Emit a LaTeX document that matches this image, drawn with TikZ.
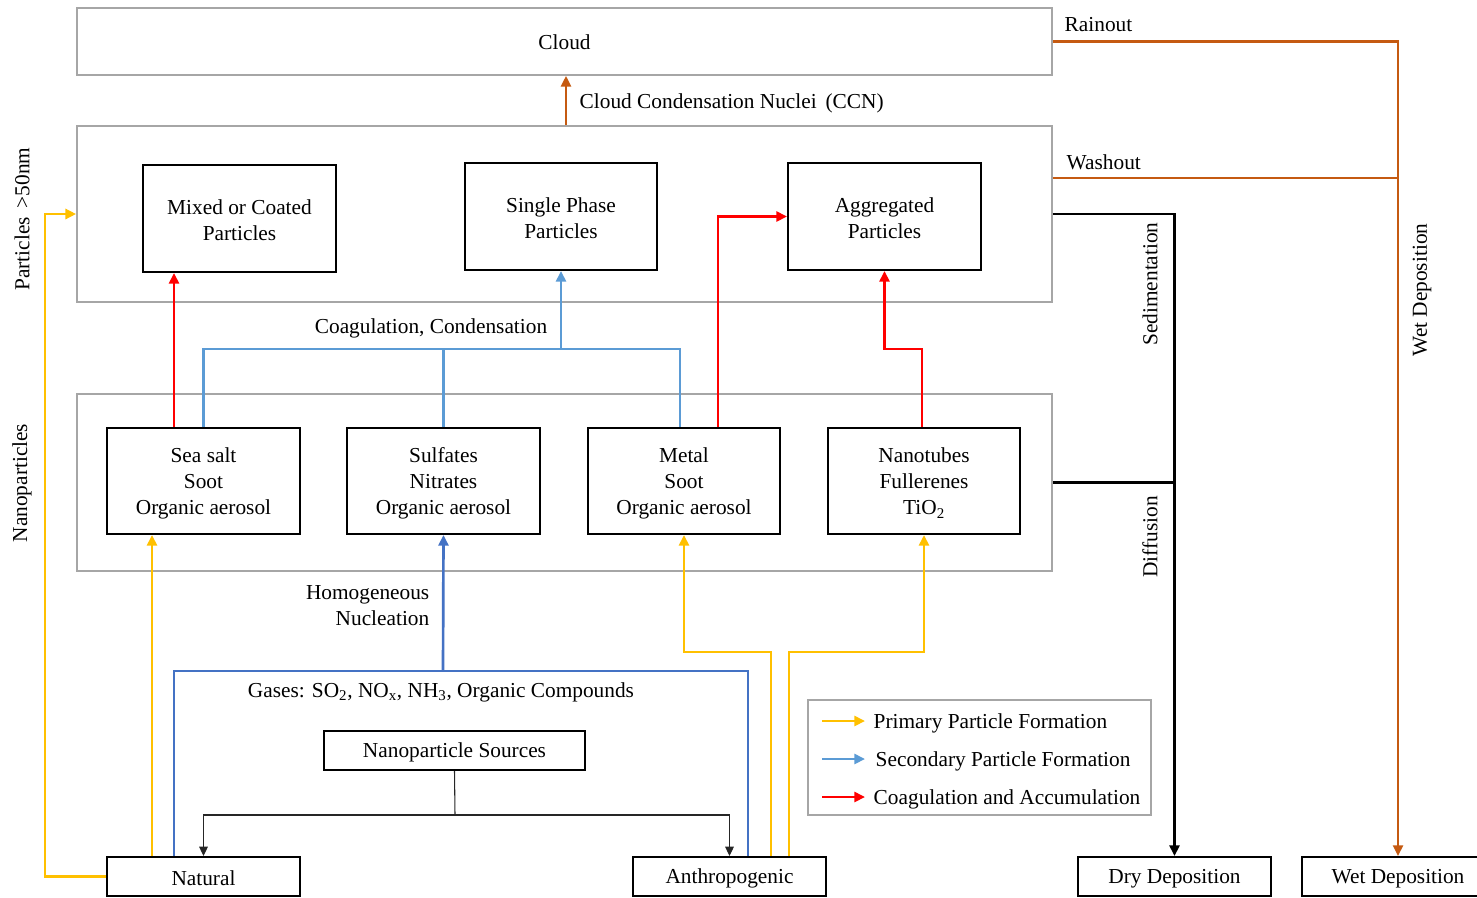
\documentclass[tikz,border=0pt]{standalone}
\usepackage{fontspec}
\setmainfont{Liberation Serif}
\usetikzlibrary{arrows.meta,calc}
\definecolor{gborder}{HTML}{A6A6A6}
\definecolor{cbrown}{HTML}{C55A11}
\definecolor{cyellow}{HTML}{FFC000}
\definecolor{clblue}{HTML}{5B9BD5}
\definecolor{cdblue}{HTML}{4472C4}
\definecolor{cred}{HTML}{FF0000}
\newcommand\fstrut{\rule{0pt}{14pt}}
\begin{document}
\begin{tikzpicture}[x=0.75pt,y=-0.75pt,
  font=\fontsize{16}{19.5}\selectfont,
  blackbox/.style={draw=black,line width=1.5pt,inner sep=0pt,align=center},
  onebox/.style={blackbox,text height=13.5pt},
  graybox/.style={draw=gborder,line width=1.3pt,inner sep=0pt,text height=12.5pt},
  tip/.style={-{Triangle[length=8pt,width=7.5pt]}},
  smalltip/.style={-{Triangle[length=7pt,width=6.5pt]}},
  yel/.style={draw=cyellow,line width=2pt},
  lbl/.style={draw=clblue,line width=2pt},
  dbl/.style={draw=cdblue,line width=2pt},
  rd/.style={draw=cred,line width=2pt},
  brn/.style={draw=cbrown,line width=1.7pt},
  blk/.style={draw=black,line width=2.1pt},
  thin/.style={draw=black!85,line width=0.8pt},
  rot/.style={rotate=90}]
\useasboundingbox (0,0) rectangle (1477,897);
% group boxes
\node[graybox,minimum width=731.25pt,minimum height=50.25pt] (cloud) at (564.5,41.5) {Cloud};
\node[graybox,minimum width=731.25pt,minimum height=132pt] (upper) at (564.5,214) {};
\node[graybox,minimum width=731.25pt,minimum height=132.75pt] (nano) at (564.5,482.5) {};
% upper boxes
\node[blackbox,minimum width=144.75pt,minimum height=80.25pt] (mixed) at (239.5,218.5) {\fstrut Mixed or Coated\\Particles};
\node[blackbox,minimum width=144pt,minimum height=80.25pt] (single) at (561,216.5) {\fstrut Single Phase\\Particles};
\node[blackbox,minimum width=144.75pt,minimum height=80.25pt] (aggr) at (884.5,216.5) {\fstrut Aggregated\\Particles};
% nanoparticle boxes
\node[blackbox,minimum width=144.75pt,minimum height=79.5pt] (seasalt) at (203.5,481) {\fstrut Sea salt\\Soot\\Organic aerosol};
\node[blackbox,minimum width=144.75pt,minimum height=79.5pt] (sulfates) at (443.5,481) {\fstrut Sulfates\\Nitrates\\Organic aerosol};
\node[blackbox,minimum width=144pt,minimum height=79.5pt] (metal) at (684,481) {\fstrut Metal\\Soot\\Organic aerosol};
\node[blackbox,minimum width=144pt,minimum height=79.5pt] (nanotubes) at (924,481) {\fstrut Nanotubes\\Fullerenes\\TiO\textsubscript{2}};
% source boxes
\node[onebox,minimum width=195.75pt,minimum height=29.25pt] (sources) at (454.5,750.5) {Nanoparticle Sources};
\node[onebox,minimum width=144.75pt,minimum height=29.25pt] (natural) at (203.5,876.5) {Natural};
\node[onebox,minimum width=144.75pt,minimum height=29.25pt] (anthro) at (729.5,876.5) {Anthropogenic};
\node[onebox,minimum width=144.75pt,minimum height=29.25pt] (dry) at (1174.5,876.5) {Dry Deposition};
\node[onebox,minimum width=144.75pt,minimum height=29.25pt] (wet) at (1398,876.5) {Wet Deposition};
% legend
\node[graybox,minimum width=257.25pt,minimum height=86.25pt] (legend) at (979.5,757.5) {};
% coordinates
\coordinate (xc) at (566,0);
\coordinate (xr1) at (174,0);
\coordinate (xr2) at (718,0);
\coordinate (jr3) at (922,349);
\coordinate (bj) at (561,349);
\coordinate (xb) at (680,0);
\coordinate (xy1) at (152,0);
\coordinate (yl) at (45,214);
\coordinate (ya1) at (771,652);
\coordinate (ya2) at (789,652);
\coordinate (db1) at (174,671);
\coordinate (db2) at (748,671);
\coordinate (dbj) at (443,671);
\coordinate (sj) at (455,815);
\coordinate (wj) at (0,178);
% CCN
\draw[brn,tip] (upper.north -| xc) -- (cloud.south -| xc);
\node[anchor=west] (ccn) at (575,103) {Cloud Condensation Nuclei\, (CCN)};
% red
\draw[rd,tip] (seasalt.north -| xr1) -- (mixed.south -| xr1);
\draw[rd,tip] (metal.north -| xr2) |- (aggr.west);
\draw[rd,tip] (nanotubes.north -| jr3) -- (jr3) -| (aggr.south);
% light blue
\draw[lbl] (seasalt.north) |- (bj) -| (metal.north -| xb);
\draw[lbl] (sulfates.north) -- (sulfates.north |- bj);
\draw[lbl,tip] (bj) -- (single.south);
\node (coag) at (431,328) {Coagulation, Condensation};
% yellow
\draw[yel,tip] (natural.north -| xy1) -- (seasalt.south -| xy1);
\draw[yel,tip] (natural.west) -| (yl) -- (upper.west |- yl);
\draw[yel,tip] (anthro.north -| ya1) -- (ya1) -| (metal.south);
\draw[yel,tip] (anthro.north -| ya2) -- (ya2) -| (nanotubes.south);
% dark blue
\draw[dbl] (natural.north -| db1) -- (db1) -- (db2) -- (anthro.north -| db2);
\draw[dbl,tip] (dbj) -- (sulfates.south);
\node[align=right,anchor=east] (homog) at (434,606) {Homogeneous\\Nucleation};
\node (gases) at (441,692) {Gases: SO\textsubscript{2}, NO\textsubscript{x}, NH\textsubscript{3}, Organic Compounds};
% sources
\draw[thin] (sources.south) -- (sj);
\draw[thin,smalltip] (sj) -| (natural.north);
\draw[thin,smalltip] (sj) -| (anthro.north);
% dry deposition
\draw[blk,tip] (upper.east) -| (dry.north);
\draw[blk] (nano.east) -- (nano.east -| dry.north);
\node[rot] (sed) at (1150,284) {Sedimentation};
\node[rot] (diff) at (1150,537) {Diffusion};
% wet deposition
\draw[brn,tip] (cloud.east) -| (wet.north);
\draw[brn] (upper.east |- wj) -- (wet.north |- wj);
\node[anchor=west] (rain) at (1060,25) {Rainout};
\node[anchor=west] (wash) at (1062,162) {Washout};
\node[rot] (wetdep) at (1422,290) {Wet Deposition};
% left labels
\node[rot] (p50) at (22,219) {Particles \,>50nm};
\node[rot] (np) at (22,483) {Nanoparticles};
% legend entries
\coordinate (l1a) at (822,721); \coordinate (l1b) at (865,721);
\coordinate (l2a) at (822,759); \coordinate (l2b) at (865,759);
\coordinate (l3a) at (822,797); \coordinate (l3b) at (865,797);
\draw[yel,tip] (l1a) -- (l1b);
\draw[lbl,tip] (l2a) -- (l2b);
\draw[rd,tip] (l3a) -- (l3b);
\node[anchor=west] (t1) at (869,723) {Primary Particle Formation};
\node[anchor=west] (t2) at (871,761) {Secondary Particle Formation};
\node[anchor=west] (t3) at (869,799) {Coagulation and Accumulation};
\end{tikzpicture}
\end{document}
